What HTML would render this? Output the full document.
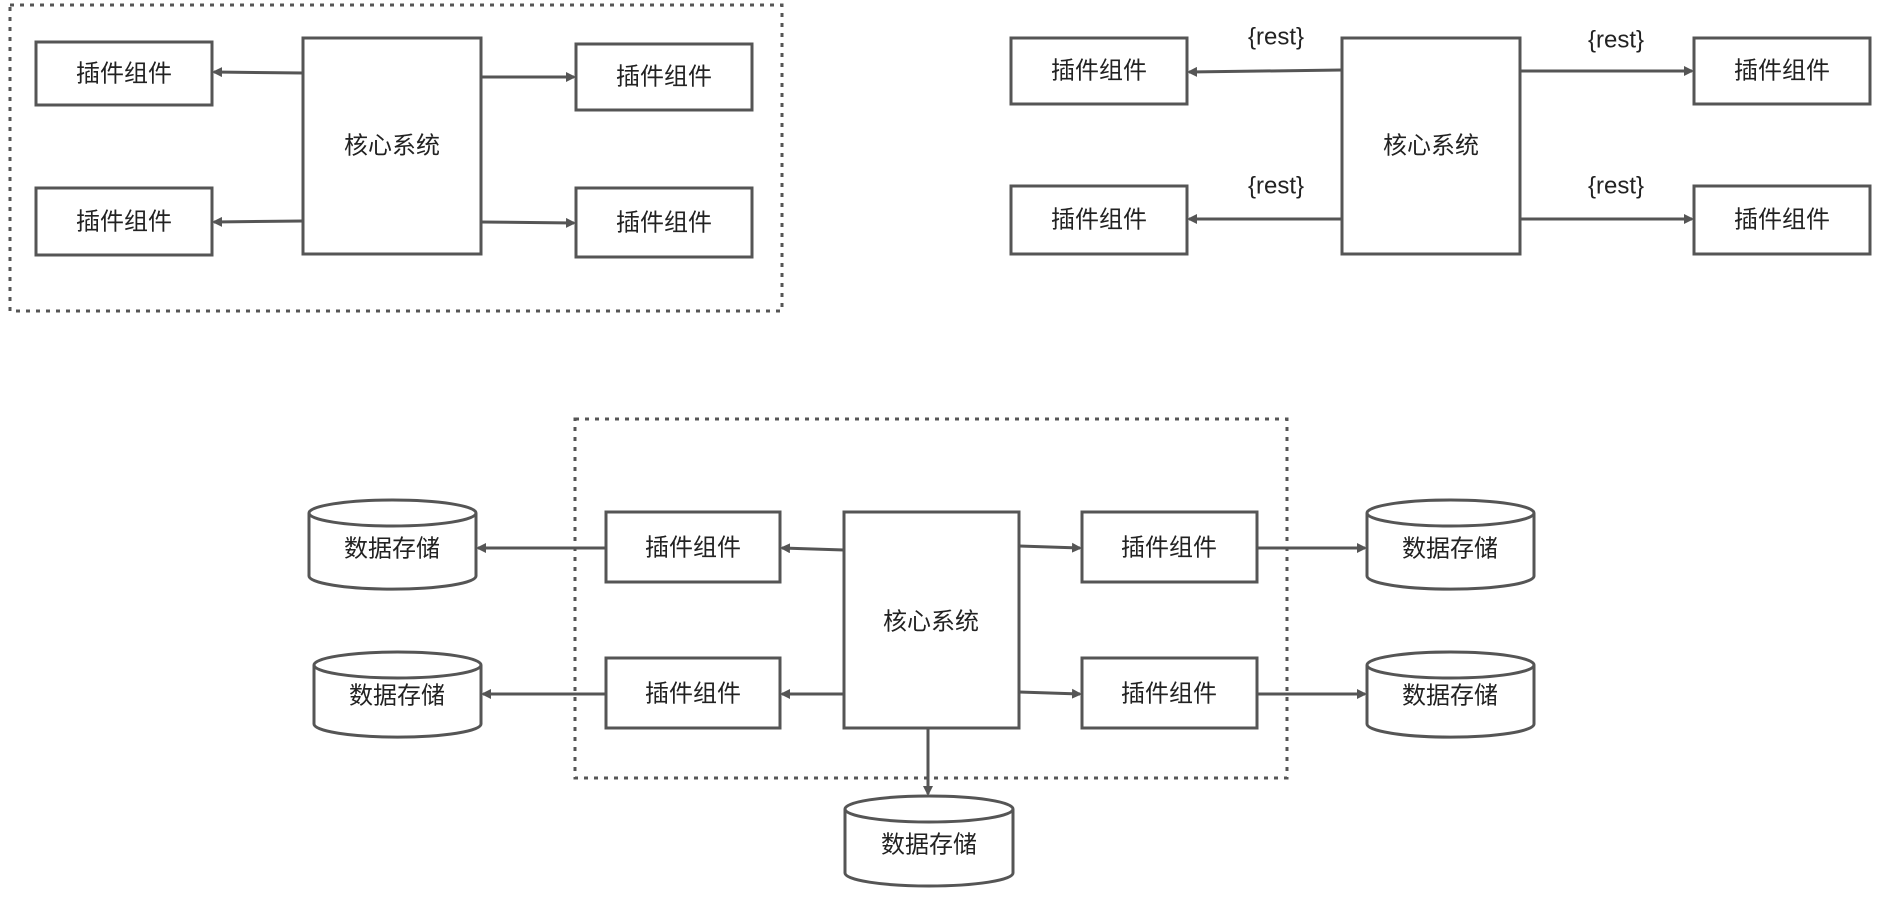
<!DOCTYPE html>
<html><head><meta charset="utf-8"><style>
html,body{margin:0;padding:0;background:#fff;}
svg text{font-family:"Liberation Sans","Noto Sans CJK SC",sans-serif;fill:#222;}
</style></head><body>
<svg width="1877" height="894" viewBox="0 0 1877 894" xmlns="http://www.w3.org/2000/svg">
<defs>
<marker id="a" markerWidth="10" markerHeight="10" refX="8" refY="5" orient="auto" markerUnits="userSpaceOnUse">
<path d="M0,0 L10,5 L0,10 z" fill="#555"/></marker>
</defs>
<g fill="none" stroke="#555" stroke-width="3">
<!-- top-left -->
<rect x="10" y="5" width="772" height="306" stroke-dasharray="4,6"/>
<rect x="36" y="42" width="176" height="63" fill="#fff"/>
<rect x="36" y="188" width="176" height="67" fill="#fff"/>
<rect x="303" y="38" width="178" height="216" fill="#fff"/>
<rect x="576" y="44" width="176" height="66" fill="#fff"/>
<rect x="576" y="188" width="176" height="69" fill="#fff"/>
<line x1="303" y1="73" x2="214" y2="72" marker-end="url(#a)"/>
<line x1="481" y1="77" x2="574" y2="77" marker-end="url(#a)"/>
<line x1="303" y1="221" x2="214" y2="222" marker-end="url(#a)"/>
<line x1="481" y1="222" x2="574" y2="223" marker-end="url(#a)"/>
<!-- top-right -->
<rect x="1011" y="38" width="176" height="66" fill="#fff"/>
<rect x="1011" y="186" width="176" height="68" fill="#fff"/>
<rect x="1342" y="38" width="178" height="216" fill="#fff"/>
<rect x="1694" y="38" width="176" height="66" fill="#fff"/>
<rect x="1694" y="186" width="176" height="68" fill="#fff"/>
<line x1="1342" y1="70" x2="1189" y2="72" marker-end="url(#a)"/>
<line x1="1520" y1="71" x2="1692" y2="71" marker-end="url(#a)"/>
<line x1="1342" y1="219" x2="1189" y2="219" marker-end="url(#a)"/>
<line x1="1520" y1="219" x2="1692" y2="219" marker-end="url(#a)"/>
<!-- bottom -->
<rect x="575" y="419" width="712" height="359" stroke-dasharray="4,6"/>
<rect x="606" y="512" width="174" height="70" fill="#fff"/>
<rect x="606" y="658" width="174" height="70" fill="#fff"/>
<rect x="1082" y="512" width="175" height="70" fill="#fff"/>
<rect x="1082" y="658" width="175" height="70" fill="#fff"/>
<rect x="844" y="512" width="175" height="216" fill="#fff"/>
<line x1="844" y1="550" x2="782" y2="548" marker-end="url(#a)"/>
<line x1="844" y1="694" x2="782" y2="694" marker-end="url(#a)"/>
<line x1="1019" y1="546" x2="1080" y2="548" marker-end="url(#a)"/>
<line x1="1019" y1="692" x2="1080" y2="694" marker-end="url(#a)"/>
<line x1="606" y1="548" x2="478" y2="548" marker-end="url(#a)"/>
<line x1="606" y1="694" x2="483" y2="694" marker-end="url(#a)"/>
<line x1="1257" y1="548" x2="1365" y2="548" marker-end="url(#a)"/>
<line x1="1257" y1="694" x2="1365" y2="694" marker-end="url(#a)"/>
<line x1="928" y1="728" x2="928" y2="794" marker-end="url(#a)"/>
<!-- cylinders -->
<g fill="#fff">
<path d="M309,513 v63 a83,13 0 0 0 167,0 v-63"/><ellipse cx="392.5" cy="513" rx="83.5" ry="13"/>
<path d="M314,665 v59 a83,13 0 0 0 167,0 v-59"/><ellipse cx="397.5" cy="665" rx="83.5" ry="13"/>
<path d="M1367,513 v63 a83,13 0 0 0 167,0 v-63"/><ellipse cx="1450.5" cy="513" rx="83.5" ry="13"/>
<path d="M1367,665 v59 a83,13 0 0 0 167,0 v-59"/><ellipse cx="1450.5" cy="665" rx="83.5" ry="13"/>
<path d="M845,809 v64 a84,13 0 0 0 168,0 v-64"/><ellipse cx="929" cy="809" rx="84" ry="13"/>
</g>
</g>
<g font-size="24" text-anchor="middle" dominant-baseline="central">
<text x="124" y="74">插件组件</text>
<text x="124" y="222">插件组件</text>
<text x="392" y="146">核心系统</text>
<text x="664" y="77">插件组件</text>
<text x="664" y="223">插件组件</text>
<text x="1099" y="71">插件组件</text>
<text x="1099" y="220">插件组件</text>
<text x="1431" y="146">核心系统</text>
<text x="1782" y="71">插件组件</text>
<text x="1782" y="220">插件组件</text>
<text x="1276" y="37">{rest}</text>
<text x="1616" y="40">{rest}</text>
<text x="1276" y="186">{rest}</text>
<text x="1616" y="186">{rest}</text>
<text x="693" y="548">插件组件</text>
<text x="693" y="694">插件组件</text>
<text x="1169" y="548">插件组件</text>
<text x="1169" y="694">插件组件</text>
<text x="931" y="622">核心系统</text>
<text x="392" y="549">数据存储</text>
<text x="397" y="696">数据存储</text>
<text x="1450" y="549">数据存储</text>
<text x="1450" y="696">数据存储</text>
<text x="929" y="845">数据存储</text>
</g>
</svg>
</body></html>
